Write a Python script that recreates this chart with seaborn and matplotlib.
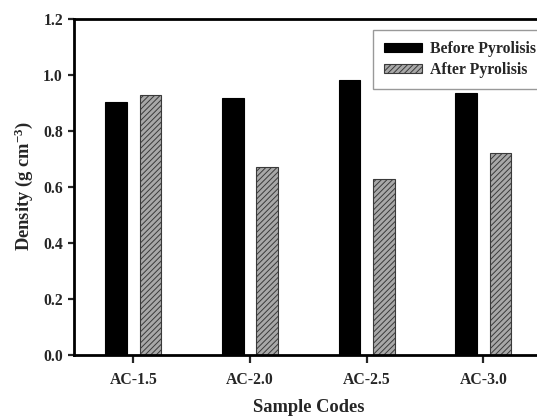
import matplotlib
matplotlib.use("Agg")
import matplotlib.pyplot as plt
import seaborn as sns
import pandas as pd

categories = ["AC-1.5", "AC-2.0", "AC-2.5", "AC-3.0"]
before = [0.904, 0.916, 0.981, 0.933]
after = [0.926, 0.670, 0.627, 0.720]
series = ["Before Pyrolisis", "After Pyrolisis"]
yticks = [0.0, 0.2, 0.4, 0.6, 0.8, 1.0, 1.2]

df = pd.DataFrame({
    "Sample": categories * 2,
    "Density": before + after,
    "Series": [series[0]] * len(categories) + [series[1]] * len(categories),
})

sns.set_style("ticks")
plt.rcParams["font.family"] = ["Liberation Serif", "DejaVu Serif"]
plt.rcParams["font.weight"] = "bold"
plt.rcParams["mathtext.fontset"] = "custom"
plt.rcParams["mathtext.rm"] = "Liberation Serif:bold"
plt.rcParams["mathtext.bf"] = "Liberation Serif:bold"
plt.rcParams["mathtext.it"] = "Liberation Serif:bold"
plt.rcParams["hatch.linewidth"] = 0.7
plt.rcParams["hatch.color"] = "#3a3a3a"

fig = plt.figure(figsize=(5.37, 4.16), dpi=100)
ax = fig.add_axes([0.1378, 0.1478, 1.0106 - 0.1378, 0.955 - 0.1478])

sns.barplot(data=df, x="Sample", y="Density", hue="Series", hue_order=series,
            palette=["black", "#a8a8a8"], width=0.592, gap=0.375,
            legend=False, ax=ax, saturation=1)

for p in ax.containers[0]:
    p.set_edgecolor("black")
    p.set_linewidth(0.8)
for p in ax.containers[1]:
    p.set_hatch("//////")
    p.set_edgecolor("#3a3a3a")
    p.set_linewidth(0.8)

ax.set_xlim(-0.508, 3.508)
ax.set_ylim(0, 1.2)
ax.set_yticks(yticks)
ax.set_yticklabels([f"{v:.1f}" for v in yticks])

for s in ax.spines.values():
    s.set_linewidth(2)
    s.set_color("black")

ax.tick_params(axis="y", direction="out", length=4, width=1.6, pad=4,
               labelsize=11.3)
ax.tick_params(axis="x", direction="out", length=5.5, width=1.6, pad=7,
               labelsize=11.3)
for t in ax.get_xticklabels() + ax.get_yticklabels():
    t.set_fontweight("bold")

ax.set_xlabel("Sample Codes", fontsize=13.3, fontweight="bold", labelpad=8)
ax.set_ylabel("Density (g cm$^{-3}$)", fontsize=13.3, fontweight="bold", labelpad=6)

leg = ax.legend(ax.containers, series, loc="upper left",
                bbox_to_anchor=(0.638, 0.966), frameon=True, fancybox=False,
                prop={"family": "Liberation Serif", "weight": "bold", "size": 11.3},
                handlelength=2.4, handleheight=0.55, handletextpad=0.55,
                labelspacing=0.3, borderpad=0.7, borderaxespad=0)
leg.get_frame().set_edgecolor("#808080")
leg.get_frame().set_linewidth(1.0)

fig.savefig("out.png", dpi=100)
